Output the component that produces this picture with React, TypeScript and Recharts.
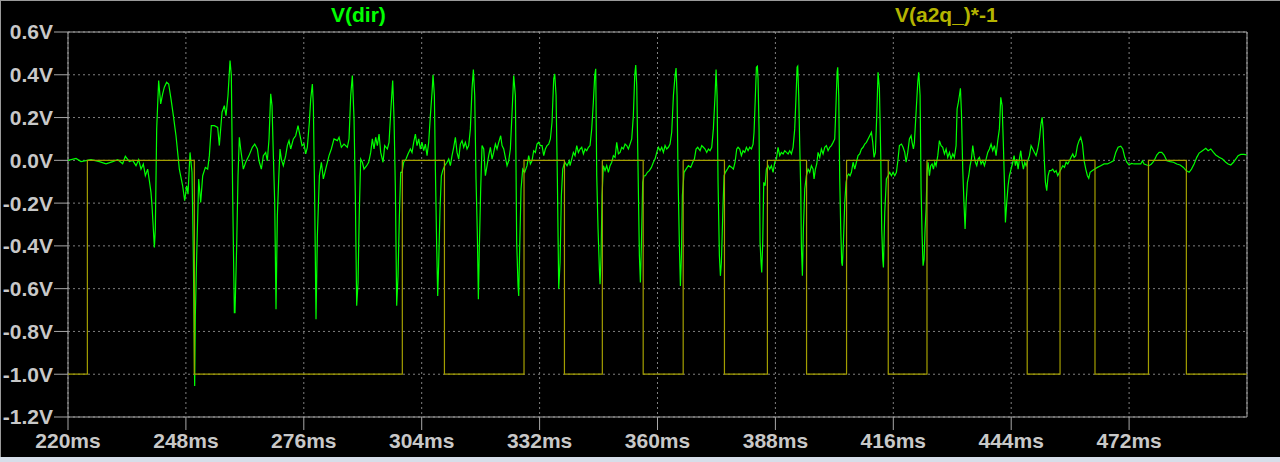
import React from 'react';
import { LineChart, Line, XAxis, YAxis, CartesianGrid, ReferenceArea } from 'recharts';

// V(dir) in sections of ~40ms: [time ms, volts]
const dirA: number[][] = [
  [220.0, 0.0], [221.9, 0.009], [223.09, -0.006], [225.46, 0.003], [227.44, -0.006], [229.03, -0.016],
  [230.61, -0.006], [231.8, 0.003], [232.98, -0.016], [233.62, 0.019], [234.57, -0.006], [235.36, 0.0],
  [236.15, -0.025], [236.78, 0.003], [237.34, -0.041], [237.89, -0.017], [238.37, -0.072], [238.92, -0.041],
  [239.32, -0.095], [239.71, -0.15], [239.95, -0.212], [240.27, -0.321], [240.51, -0.407], [240.74, -0.321],
  [241.06, 0.147], [241.53, 0.373], [242.01, 0.264], [242.48, 0.311], [242.88, 0.342], [243.43, 0.365],
  [243.91, 0.357], [244.46, 0.287], [245.02, 0.209], [245.65, 0.115], [246.44, -0.041], [247.23, -0.119],
  [247.71, -0.189], [248.18, -0.119], [248.5, -0.158], [248.98, 0.037], [249.45, -0.056], [249.77, -0.446],
  [250.08, -1.055], [250.24, -0.727], [250.56, -0.446], [251.04, -0.087], [251.51, -0.197], [251.99, -0.072],
  [252.62, -0.033], [253.17, -0.041], [253.57, 0.022], [254.04, 0.162], [254.76, 0.162], [255.55, 0.154],
  [255.94, 0.069], [256.58, 0.225], [257.13, 0.256], [257.53, 0.209], [258.0, 0.303], [258.48, 0.467],
  [258.79, 0.396], [259.11, -0.165], [259.51, -0.712],
];
const dirB: number[][] = [
  [259.66, -0.712], [260.06, -0.4], [260.38, -0.072], [260.69, 0.108], [261.01, 0.053], [261.64, -0.041],
  [262.2, -0.009], [262.99, 0.022], [263.78, 0.061], [264.34, 0.076], [264.97, 0.053], [265.36, -0.002],
  [265.92, -0.041], [266.39, 0.022], [266.95, 0.037], [267.34, -0.002], [267.74, 0.1], [268.14, 0.311],
  [268.45, 0.256], [268.77, 0.022], [269.09, -0.197], [269.4, -0.696], [269.72, -0.259], [270.04, -0.087],
  [270.35, 0.053], [270.67, 0.006], [271.14, -0.025], [271.7, 0.022], [272.09, 0.069], [272.49, 0.092],
  [272.89, 0.053], [273.52, 0.1], [274.07, 0.115], [274.63, 0.162], [275.1, 0.115], [275.58, 0.069],
  [276.05, 0.076], [276.45, 0.03], [276.84, 0.061], [277.32, 0.178], [277.64, 0.287], [278.03, 0.357],
  [278.27, 0.256], [278.59, -0.197], [278.9, -0.743], [279.22, -0.353], [279.7, -0.072], [280.17, -0.009],
  [280.64, -0.087], [281.2, -0.041], [281.99, 0.022], [282.54, 0.053], [283.18, 0.1], [283.97, 0.092],
  [284.37, 0.108], [284.92, 0.061], [285.55, 0.076], [286.34, 0.061], [286.74, 0.1], [287.14, 0.303],
  [287.53, 0.396], [287.93, 0.194], [288.24, -0.165], [288.56, -0.68], [288.88, -0.571], [289.18, -0.243],
  [289.51, 0.006], [289.91, -0.009], [290.3, -0.041], [290.94, -0.025], [291.41, -0.009], [291.89, 0.037],
  [292.28, 0.1], [292.68, 0.053], [293.07, 0.108], [293.47, 0.069], [293.87, 0.123], [294.26, 0.037],
  [294.82, -0.009], [295.21, 0.069], [295.85, 0.053], [296.24, 0.084], [296.64, 0.225], [297.11, 0.373],
  [297.43, 0.194], [297.75, -0.134], [298.06, -0.68], [298.38, -0.54], [298.7, -0.259], [299.01, -0.056],
];
const dirC: number[][] = [
  [299.33, -0.056], [299.72, -0.009], [300.28, 0.006], [300.75, 0.03], [301.31, 0.053], [301.7, 0.037],
  [302.1, 0.084], [302.5, 0.123], [302.89, 0.069], [303.29, 0.1], [303.68, 0.053], [304.08, 0.084],
  [304.48, 0.045], [304.87, 0.076], [305.27, 0.022], [305.66, 0.084], [306.06, 0.209], [306.46, 0.318],
  [306.69, 0.4], [307.01, 0.303], [307.25, -0.041], [307.56, -0.4], [307.8, -0.634], [308.04, -0.478],
  [308.35, -0.228], [308.67, -0.072], [308.99, -0.048], [309.46, -0.025], [310.02, -0.009], [310.41, 0.006],
  [310.81, -0.025], [311.2, 0.022], [311.6, 0.061], [312.0, 0.108], [312.39, 0.037], [312.79, 0.006],
  [313.18, 0.076], [313.58, 0.092], [313.98, 0.061], [314.37, 0.084], [314.77, 0.053], [315.16, 0.069],
  [315.56, 0.147], [315.95, 0.334], [316.27, 0.424], [316.59, 0.303], [316.9, -0.087], [317.22, -0.353],
  [317.46, -0.649], [317.7, -0.4], [318.01, -0.134], [318.33, 0.069], [318.73, 0.053], [319.12, -0.072],
  [319.52, -0.025], [319.91, 0.022], [320.31, 0.061], [320.71, 0.006], [321.1, 0.037], [321.5, 0.076],
  [321.89, 0.053], [322.29, 0.084], [322.76, 0.115], [323.08, 0.069], [323.48, 0.053], [323.87, 0.014],
  [324.27, -0.025], [324.66, -0.002], [325.06, 0.053], [325.46, 0.225], [325.85, 0.396], [326.25, 0.303],
  [326.56, -0.384], [326.88, -0.587], [327.04, -0.634], [327.28, -0.4], [327.59, -0.134], [327.99, -0.041],
  [328.46, -0.056], [329.02, -0.025], [329.41, 0.022], [329.81, -0.017], [330.2, -0.002], [330.6, 0.045],
  [330.99, 0.037], [331.39, 0.076], [331.79, 0.084], [332.18, 0.069], [332.58, 0.069], [332.98, 0.022],
  [333.37, 0.053], [333.77, 0.069], [334.16, 0.076], [334.56, 0.1], [334.95, 0.178], [335.35, 0.381],
  [335.59, 0.404], [335.91, 0.303], [336.22, -0.087], [336.54, -0.602], [336.86, -0.478], [337.17, -0.165],
  [337.49, -0.041], [337.96, -0.009], [338.52, -0.025], [339.07, -0.002],
];
const dirD: number[][] = [
  [339.23, -0.025], [339.63, 0.006], [340.02, 0.037], [340.42, 0.022], [340.82, 0.069], [341.21, 0.037],
  [341.61, 0.053], [342.0, 0.061], [342.4, 0.03], [342.8, 0.053], [343.19, 0.045], [343.59, 0.061],
  [343.98, 0.069], [344.38, 0.147], [344.77, 0.272], [345.09, 0.396], [345.33, 0.428], [345.57, -0.072],
  [345.88, -0.321], [346.2, -0.509], [346.36, -0.579], [346.6, -0.446], [346.83, -0.165], [347.15, -0.025],
  [347.54, -0.048], [347.94, -0.025], [348.34, -0.056], [348.73, -0.025], [349.13, -0.009], [349.52, 0.022],
  [349.92, 0.014], [350.32, 0.084], [350.71, 0.03], [351.11, 0.037], [351.5, 0.061], [351.9, 0.053],
  [352.3, 0.076], [352.69, 0.069], [353.09, 0.053], [353.48, 0.076], [353.88, 0.1], [354.27, 0.209],
  [354.59, 0.396], [354.83, 0.446], [355.07, 0.35], [355.38, -0.041], [355.7, -0.446], [355.94, -0.571],
  [356.17, -0.4], [356.49, -0.103], [356.81, -0.072], [357.12, -0.072], [357.6, -0.056], [358.07, -0.048],
  [358.55, -0.033], [359.02, -0.009], [359.42, 0.006], [359.82, 0.037], [360.21, 0.061], [360.61, 0.045],
  [361.0, 0.061], [361.4, 0.037], [361.8, 0.069], [362.19, 0.053], [362.59, 0.061], [362.98, 0.076],
  [363.38, 0.131], [363.78, 0.303], [364.17, 0.396], [364.41, 0.431], [364.65, 0.303], [364.88, -0.072],
  [365.2, -0.4], [365.44, -0.587], [365.68, -0.446], [365.91, -0.165], [366.31, -0.056], [366.78, -0.041],
  [367.34, -0.025], [367.89, -0.033], [368.37, -0.009], [368.76, 0.006], [369.16, 0.053], [369.55, 0.061],
  [370.11, 0.045], [370.5, 0.069], [370.9, 0.061], [371.3, 0.053], [371.69, 0.037], [372.09, 0.053],
  [372.48, 0.045], [372.88, 0.061], [373.27, 0.147], [373.67, 0.303], [373.91, 0.424], [374.15, 0.303],
  [374.38, -0.103], [374.7, -0.446], [374.94, -0.54], [375.17, -0.478], [375.49, -0.259], [375.81, -0.072],
  [376.12, -0.056], [376.6, -0.041], [377.07, -0.025], [377.63, -0.033], [378.02, -0.041], [378.42, -0.009],
  [378.82, 0.053],
];
const dirE: number[][] = [
  [379.13, 0.061], [379.53, 0.053], [379.92, 0.022], [380.32, 0.045], [380.72, 0.037], [381.11, 0.061],
  [381.51, 0.045], [381.9, 0.061], [382.3, 0.053], [382.7, 0.076], [382.93, 0.131], [383.25, 0.303],
  [383.49, 0.435], [383.72, 0.44], [383.88, 0.381], [384.12, 0.147], [384.36, -0.384], [384.59, -0.478],
  [384.75, -0.524], [384.99, -0.384], [385.23, -0.103], [385.55, -0.119], [385.86, -0.041], [386.26, -0.025],
  [386.65, -0.041], [387.05, -0.025], [387.45, -0.056], [387.84, -0.009], [388.24, 0.006], [388.63, 0.061],
  [389.03, 0.022], [389.42, 0.037], [389.82, 0.03], [390.22, 0.045], [390.61, 0.037], [391.01, 0.03],
  [391.4, 0.045], [391.8, 0.03], [392.2, 0.061], [392.59, 0.147], [392.91, 0.303], [393.15, 0.435],
  [393.3, 0.44], [393.54, 0.303], [393.78, 0.069], [394.02, -0.134], [394.17, -0.4], [394.41, -0.54],
  [394.65, -0.321], [394.97, -0.134], [395.36, -0.072], [395.76, -0.041], [396.15, -0.056], [396.55, -0.025],
  [396.95, -0.041], [397.18, -0.087], [397.5, -0.041], [397.82, -0.017], [398.13, 0.037], [398.53, 0.014],
  [398.92, 0.053], [399.32, 0.03], [399.72, 0.061], [400.11, 0.069], [400.51, 0.045], [400.9, 0.061],
  [401.3, 0.069], [401.7, 0.084], [402.09, 0.1], [402.33, 0.225], [402.65, 0.412], [402.8, 0.435],
  [403.04, 0.303], [403.28, -0.087], [403.52, -0.321], [403.75, -0.478], [403.91, -0.493], [404.15, -0.384],
  [404.47, -0.197], [404.78, -0.103], [405.1, -0.072], [405.42, -0.064], [405.73, -0.072], [406.05, -0.056],
  [406.45, -0.009], [406.84, -0.041], [407.24, -0.009], [407.63, 0.022], [408.03, 0.03], [408.43, 0.053],
  [408.82, 0.061], [409.22, 0.076], [409.61, 0.084], [410.01, 0.1], [410.4, 0.115], [410.8, 0.131],
  [411.12, 0.084], [411.43, 0.014], [411.75, 0.037], [412.07, 0.209], [412.38, 0.412], [412.7, 0.334],
  [413.02, 0.022], [413.25, -0.321], [413.49, -0.462], [413.65, -0.501], [413.97, -0.243], [414.36, -0.087],
  [414.76, -0.072], [415.15, -0.056], [415.55, -0.072], [415.95, -0.056], [416.34, -0.072], [416.74, -0.056],
  [417.13, 0.006], [417.45, 0.069], [417.93, 0.076], [418.32, 0.061], [418.72, 0.037],
];
const dirF: number[][] = [
  [419.04, -0.009], [419.43, 0.037], [419.83, 0.1], [420.22, 0.115], [420.46, 0.084], [420.78, 0.053],
  [421.01, 0.084], [421.41, 0.225], [421.81, 0.365], [422.04, 0.412], [422.36, 0.303], [422.6, -0.134],
  [422.84, -0.353], [423.07, -0.493], [423.31, -0.462], [423.55, -0.321], [423.79, -0.228], [424.02, -0.056],
  [424.26, -0.009], [424.58, -0.072], [424.89, -0.025], [425.21, -0.017], [425.53, -0.041], [425.84, -0.009],
  [426.16, -0.025], [426.56, 0.022], [426.95, 0.092], [427.35, 0.069], [427.74, 0.061], [428.14, 0.03],
  [428.54, 0.053], [428.93, 0.014], [429.33, 0.037], [429.72, 0.006], [430.12, 0.03], [430.51, 0.014],
  [430.91, 0.069], [431.15, 0.24], [431.46, 0.272], [431.7, 0.303], [431.94, 0.337], [432.18, 0.225],
  [432.49, -0.041], [432.81, -0.212], [433.05, -0.321], [433.29, -0.197], [433.6, -0.103], [433.92, -0.072],
  [434.24, -0.025], [434.55, 0.006], [434.87, 0.069], [435.19, 0.022], [435.5, -0.009], [435.82, -0.025],
  [436.14, 0.006], [436.45, 0.014], [436.85, -0.017], [437.24, -0.002], [437.64, -0.025], [438.04, 0.006],
  [438.43, 0.037], [438.83, 0.053], [439.22, 0.076], [439.62, 0.045], [440.02, 0.069], [440.41, 0.022],
  [440.81, 0.092], [441.2, 0.147], [441.52, 0.295], [441.84, 0.256], [442.15, 0.069], [442.39, -0.103],
  [442.63, -0.29], [442.94, -0.197], [443.26, -0.119], [443.58, -0.072], [443.97, -0.041], [444.37, -0.009],
  [444.69, 0.022], [445.0, -0.025], [445.32, 0.006], [445.64, -0.041], [445.95, 0.006], [446.27, 0.045],
  [446.59, -0.009], [446.9, -0.041], [447.22, -0.009], [447.54, -0.025], [447.93, -0.002], [448.33, 0.022],
  [448.72, 0.069], [449.12, 0.053], [449.52, 0.037], [449.91, 0.022], [450.31, 0.053], [450.7, 0.1],
  [451.02, 0.162], [451.34, 0.201], [451.57, 0.147], [451.89, -0.009], [452.13, -0.103], [452.44, -0.142],
  [452.76, -0.072], [453.08, -0.048], [453.47, -0.048], [453.87, -0.041], [454.27, -0.056], [454.66, -0.048],
  [455.06, -0.072], [455.45, -0.056], [455.85, -0.041], [456.25, -0.025], [456.64, -0.033], [457.04, -0.009],
  [457.43, -0.017], [457.83, -0.002], [458.22, 0.014], [458.62, 0.03],
];
const dirG: number[][] = [
  [458.94, 0.014], [459.33, 0.022], [459.73, 0.069], [460.12, 0.092], [460.52, 0.108], [460.92, 0.076],
  [461.31, -0.002], [461.71, -0.041], [462.1, -0.072], [462.42, -0.084], [462.74, -0.056], [463.29, -0.048],
  [463.85, -0.041], [464.48, -0.033], [465.27, -0.025], [466.06, -0.017], [466.85, -0.017], [467.65, -0.009],
  [468.28, -0.002], [468.83, 0.037], [469.39, 0.061], [470.02, 0.066], [470.5, 0.053], [470.97, 0.014],
  [471.45, -0.009], [472.0, -0.022], [472.56, -0.014], [473.19, -0.017], [473.98, -0.017], [474.77, -0.017],
  [475.17, -0.002], [475.56, -0.017], [476.2, -0.022], [476.75, -0.025], [477.3, -0.017], [477.94, -0.002],
  [478.57, 0.025], [479.13, 0.037], [479.76, 0.037], [480.31, 0.025], [480.95, -0.002], [481.74, -0.006],
  [482.53, -0.009], [483.32, -0.017], [484.11, -0.022], [484.9, -0.033], [485.54, -0.048], [486.25, -0.056],
  [486.81, -0.041], [487.44, -0.017], [488.07, 0.014], [488.63, 0.034], [489.42, 0.045], [490.21, 0.056],
  [490.76, 0.045], [491.4, 0.053], [492.03, 0.037], [492.58, 0.025], [493.38, 0.014], [494.17, 0.006],
  [494.96, -0.009], [495.51, -0.017], [496.15, -0.022], [496.78, -0.009], [497.33, 0.006], [497.89, 0.022],
  [498.52, 0.028], [499.31, 0.028], [499.95, 0.025],
];

// V(a2q_)*-1 is a square wave between -1 and 0; these are its switching times (ms)
const a2qStartLevel = -1;
const a2qEdges = [
  224.6, 250.0, 299.4, 309.4, 328.3, 337.9, 346.9, 356.6, 366.1, 375.9,
  386.1, 395.4, 404.9, 414.8, 424.0, 447.8, 455.6, 463.9, 476.6, 485.6,
];

const xTicks = [220, 248, 276, 304, 332, 360, 388, 416, 444, 472];
const yTicks = [-1.2, -1.0, -0.8, -0.6, -0.4, -0.2, 0.0, 0.2, 0.4, 0.6];
const tStart = 220;
const tEnd = 500;

const dirData = [...dirA, ...dirB, ...dirC, ...dirD, ...dirE, ...dirF, ...dirG].map(([t, v]) => ({ t, v }));

const a2qData = (() => {
  let level = a2qStartLevel;
  const pts = [{ t: tStart, v: level }];
  a2qEdges.forEach((t) => {
    pts.push({ t, v: level });
    level = level === -1 ? 0 : -1;
    pts.push({ t, v: level });
  });
  pts.push({ t: tEnd, v: level });
  return pts;
})();

const font = '"Liberation Sans", Arial, sans-serif';
const tickStyle = { fill: '#c8c8c8', fontSize: 21, fontWeight: 'bold', fontFamily: font };

const App: React.FC = () => {
  return (
    <div style={{ position: 'absolute', left: 0, top: 0, width: 1280, height: 462, background: '#000', overflow: 'hidden' }}>
      <div style={{ position: 'absolute', left: 0, top: 0, width: 1280, height: 1, background: '#9a9a9a' }} />
      <div style={{ position: 'absolute', left: 0, top: 0, width: 1, height: 462, background: '#9a9a9a' }} />
      <div style={{ position: 'absolute', left: 0, top: 457, width: 1280, height: 5, background: '#d6dee9' }} />
      <div style={{ position: 'absolute', left: 331, top: 3, fontFamily: font, fontWeight: 'bold', fontSize: 21, color: '#00ff00', lineHeight: '24px' }}>
        V(dir)
      </div>
      <div style={{ position: 'absolute', left: 895, top: 3, fontFamily: font, fontWeight: 'bold', fontSize: 21, color: '#b4b400', lineHeight: '24px' }}>
        V(a2q_)*-1
      </div>
      <LineChart width={1280} height={462} margin={{ top: 32, right: 33, bottom: 0, left: 0 }} style={{ position: 'absolute', left: 0, top: 0 }}>
        <CartesianGrid stroke="#808080" strokeDasharray="2 3" />
        <XAxis
          type="number"
          dataKey="t"
          domain={[tStart, tEnd]}
          ticks={xTicks}
          allowDataOverflow
          height={45}
          axisLine={false}
          tickSize={13}
          tickMargin={3}
          tickLine={{ stroke: '#a8a8a8' }}
          tick={tickStyle}
          tickFormatter={(v: number) => `${v}ms`}
        />
        <YAxis
          type="number"
          dataKey="v"
          domain={[-1.2, 0.6]}
          ticks={yTicks}
          allowDataOverflow
          width={68}
          axisLine={false}
          tickSize={14}
          tickMargin={1}
          tickLine={{ stroke: '#a8a8a8' }}
          tick={tickStyle}
          tickFormatter={(v: number) => `${v.toFixed(1)}V`}
        />
        <ReferenceArea x1={tStart} x2={tEnd} y1={-1.2} y2={0.6} fill="none" stroke="#a8a8a8" strokeWidth={1} />
        <Line data={dirData} dataKey="v" type="linear" stroke="#00ff00" strokeWidth={1.2} dot={false} isAnimationActive={false} />
        <Line data={a2qData} dataKey="v" type="linear" stroke="#a39e00" strokeWidth={1.2} dot={false} isAnimationActive={false} />
      </LineChart>
    </div>
  );
};

export default App;
